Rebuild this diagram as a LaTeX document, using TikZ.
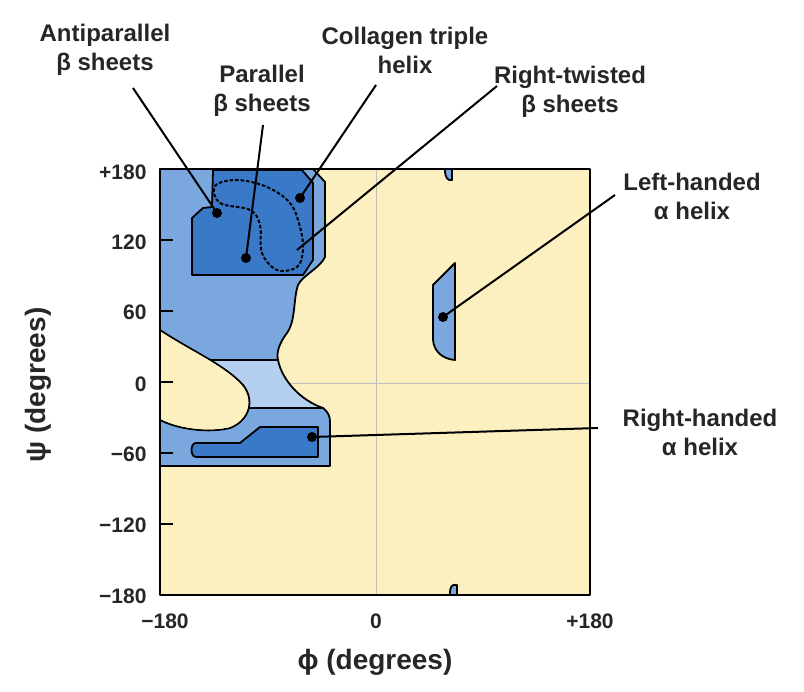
\documentclass[tikz,border=0pt]{standalone}
\usepackage{fontspec}
\setmainfont{Liberation Sans}
\begin{document}
\begin{tikzpicture}[x=1pt,y=-1pt,line join=round,
  reg/.style={draw=black,line width=1.8pt},
  lab/.style={font=\bfseries\fontsize{24}{29}\selectfont,align=center,text=black!85},
  tick/.style={font=\bfseries\fontsize{21}{24}\selectfont,text=black!85},
  lead/.style={line width=2pt},
  dot/.style={circle,fill=black,inner sep=0pt,minimum size=10pt}]
\definecolor{mb}{HTML}{7BA7DF}
\definecolor{db}{HTML}{3A78C8}
\definecolor{lb}{HTML}{B4CFF0}
\definecolor{yl}{HTML}{FDF0C0}
\useasboundingbox (0,0) rectangle (804,692);
\fill[yl] (160,169) rectangle (590,595);
\draw[gray!50,line width=0.8pt] (376,169) -- (376,595) (160,383) -- (590,383);
% medium upper region
\draw[reg,fill=mb] (160,169) -- (313,169) -- (325,182) -- (325,257)
  .. controls (320,268) and (303,275) .. (298,285)
  .. controls (293,300) and (296,320) .. (287,333)
  .. controls (280,342) and (276,352) .. (278,360) -- (160,360) -- cycle;
\draw[reg,fill=lb] (160,360) -- (278,360) .. controls (282,380) and (300,400) .. (323,408) -- (160,408) -- cycle;
\draw[reg,fill=mb] (160,408) -- (323,408) .. controls (328,412) and (330,416) .. (330,422) -- (330,466) -- (160,466) -- cycle;
\draw[reg,fill=yl] (160,330) .. controls (190,350) and (225,365) .. (243,385)
  .. controls (255,400) and (250,420) .. (230,428)
  .. controls (210,433) and (180,430) .. (160,420);
\fill[yl] (161,332) .. controls (190,351) and (225,366) .. (242,386)
  .. controls (253,400) and (249,419) .. (230,427) .. controls (210,432) and (180,429) .. (161,419) -- cycle;
% dark regions
\draw[reg,fill=db] (192,275) -- (192,218) -- (203,208) -- (212,207) -- (213,170) -- (302,170) -- (313,183) -- (313,260) -- (303,275) -- cycle;
\draw[line width=2pt,dash pattern=on 3.5pt off 2pt] plot[smooth cycle,tension=0.6] coordinates {(215,186) (220,203) (250,210) (260,225) (262,253) (277,270) (297,267) (303,250) (300,227) (290,203) (267,187) (237,180)};
\draw[reg,fill=db] (318,427) -- (260,427) -- (240,443) -- (196,443) .. controls (190,443) and (190,457) .. (196,457) -- (318,457) -- cycle;
% right blobs
\draw[reg,fill=mb] (455,263) -- (433,285) -- (433,340) .. controls (434,352) and (443,359) .. (455,360) -- cycle;
\draw[reg,fill=mb] (445,170) .. controls (445,178) and (448,181) .. (452,180) -- (452,170);
\draw[reg,fill=mb] (450,594) .. controls (450,586) and (452,584) .. (457,585) -- (457,594);
\draw[black,line width=2.6pt] (160,169) rectangle (590,595);
\foreach \y in {240,311,382,453,524} \draw[line width=1.8pt] (160,\y) -- (173,\y);
% tick labels
\node[tick,anchor=east] (t1) at (150,172) {+180};
\node[tick,anchor=east] (t2) at (150,242) {120};
\node[tick,anchor=east] (t3) at (150,312) {60};
\node[tick,anchor=east] (t4) at (150,384) {0};
\node[tick,anchor=east] (t5) at (150,454) {−60};
\node[tick,anchor=east] (t6) at (150,525) {−120};
\node[tick,anchor=east] (t7) at (150,596) {−180};
\node[tick] (b1) at (165,621) {−180};
\node[tick] (b2) at (376,621) {0};
\node[tick] (b3) at (590,621) {+180};
\node[font=\bfseries\fontsize{28}{32}\selectfont,text=black!85] (xl) at (375,662) {ϕ (degrees)};
\node[font=\bfseries\fontsize{28}{32}\selectfont,text=black!85,rotate=90] (yl) at (38,385) {ψ (degrees)};
% dots
\node[dot] (d1) at (217,213) {};
\node[dot] (d2) at (246,258) {};
\node[dot] (d3) at (300,198) {};
\coordinate (d4) at (297,250);
\node[dot] (d5) at (443,317) {};
\node[dot] (d6) at (312,437) {};
% labels
\node[lab] (L1) at (105,50) {Antiparallel\\β sheets};
\node[lab] (L2) at (262,91) {Parallel\\β sheets};
\node[lab] (L3) at (405,50) {Collagen triple\\helix};
\node[lab] (L4) at (570,92) {Right-twisted\\β sheets};
\node[lab] (L5) at (692,196) {Left-handed\\α helix};
\node[lab] (L6) at (700,432) {Right-handed\\α helix};
\draw[lead] (133,88) -- (d1.center);
\draw[lead] (263,125) -- (d2.center);
\draw[lead] (376,85) -- (d3.center);
\draw[lead] (497,86) -- (d4);
\draw[lead] (615,195) -- (d5.center);
\draw[lead] (598,428) -- (d6.center);
\end{tikzpicture}
\end{document}
